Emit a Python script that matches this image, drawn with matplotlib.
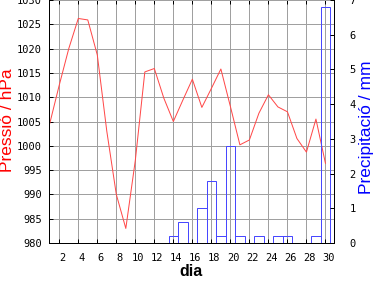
import numpy as np
import matplotlib
matplotlib.use('Agg')
from matplotlib import pyplot as plt
from matplotlib.transforms import ScaledTranslation

# daily values
dies = np.arange(1, 31)
pressio = [1004.6, 1012.5, 1020.0, 1026.2, 1025.9, 1018.7, 1003.0, 990.0, 983.0, 997.0,
           1015.2, 1015.9, 1009.8, 1005.0, 1009.4, 1013.7, 1007.9, 1011.8, 1015.8, 1008.1,
           1000.2, 1001.2, 1006.7, 1010.5, 1008.0, 1007.0, 1001.5, 998.7, 1005.5, 996.4]
dies_pluja = [14, 15, 17, 18, 19, 20, 21, 23, 25, 26, 29, 30]
pluja = [0.2, 0.6, 1.0, 1.8, 0.2, 2.8, 0.2, 0.2, 0.2, 0.2, 0.2, 6.8]

px = 1 / 100 * 72  # one pixel in points

fig = plt.figure(figsize=(3.84, 2.88), dpi=100)
ax = fig.add_axes([49 / 384, 45 / 288, 285 / 384, 243 / 288])
ax2 = ax.twinx()

ax.plot(dies, pressio, color='#ff4848', lw=px)
ax.set_xlim(0.92, 30.9)
ax.set_ylim(980, 1030)
ax.set_yticks(np.arange(980, 1031, 5))
ax.set_xticks(np.arange(2, 31, 2))
ax.grid(True, color='#a0a0a0', lw=px)

ax2.bar(dies_pluja, pluja, width=1.0, fill=False, edgecolor='#4848ff', lw=px)
ax2.set_ylim(0, 7)
ax2.set_yticks(range(8))

for a in (ax, ax2):
    for s in a.spines.values():
        s.set_linewidth(px)
        s.set_color('black')
    a.spines['top'].set_visible(False)

mono = 'DejaVu Sans Mono'
ax.tick_params(axis='x', direction='in', length=4 * px, width=px, top=True,
               pad=7, labelsize=7.5)
ax.tick_params(axis='y', direction='in', length=4 * px, width=px, pad=5, labelsize=7.5)
ax2.tick_params(axis='y', direction='in', length=4 * px, width=px, pad=11, labelsize=7.5)
for lab in ax.get_xticklabels() + ax.get_yticklabels() + ax2.get_yticklabels():
    lab.set_family(mono)
shift = ScaledTranslation(3 / 100, 0, fig.dpi_scale_trans)
for lab in ax.get_xticklabels():
    lab.set_transform(lab.get_transform() + shift)

ax.set_ylabel('Pressió / hPa', color='#ff0000', family='Liberation Sans',
              fontsize=12.5, va='center', ha='center')
ax.yaxis.set_label_coords(-0.145, 0.506)
ax2.set_ylabel('Precipitació / mm', color='#0000ff', family='Liberation Sans',
               fontsize=12.5, va='center', ha='center', rotation=90)
ax2.yaxis.set_label_coords(1.113, 0.475)
ax.set_xlabel('dia', family='Liberation Sans', fontsize=11.5, fontweight='bold',
              va='center', ha='center')
ax.xaxis.set_label_coords(0.5, -0.119)

fig.savefig('out.png', dpi=100)
